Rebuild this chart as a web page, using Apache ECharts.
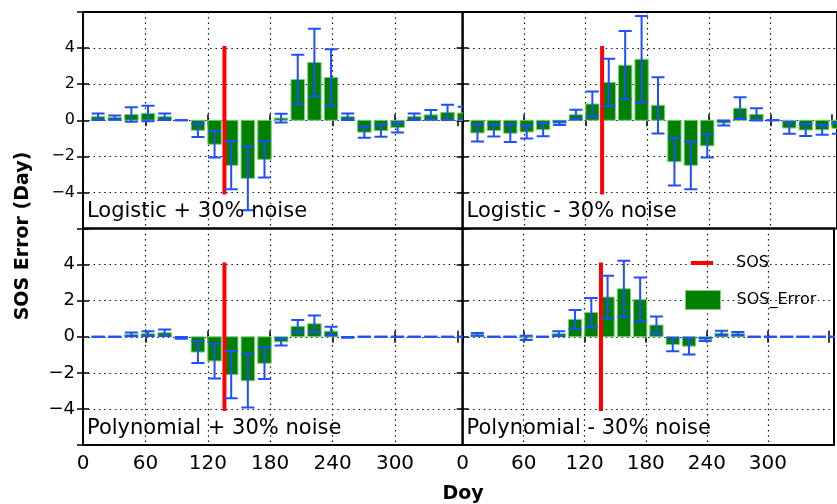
<!DOCTYPE html>
<html>
<head>
<meta charset="utf-8">
<script src="https://cdn.jsdelivr.net/npm/echarts@6/dist/echarts.min.js"></script>
<style>
html, body { margin: 0; padding: 0; background: #fff; }
#chart { width: 837px; height: 504px; }
</style>
</head>
<body>
<div id="chart"></div>
<script>
// SOS error per 16-day composite, four simulation settings (2x2 panels).

const days = [14.5, 30.5, 46.5, 62.5, 78.5, 94.5, 110.5, 126.5, 142.5, 158.5, 174.5, 190.5,
  206.5, 222.5, 238.5, 254.5, 270.5, 286.5, 302.5, 318.5, 334.5, 350.5, 366.5];

const sosDay = 136;
const sosSpan = [-4, 4];

const panelTitles = ['Logistic + 30% noise', 'Logistic - 30% noise', 'Polynomial + 30% noise', 'Polynomial - 30% noise'];

const logPlusVal = [0.2, 0.15, 0.32, 0.38, 0.2, 0, -0.56, -1.33, -2.5, -3.22, -2.17, 0.12,
  2.26, 3.2, 2.37, 0.2, -0.66, -0.58, -0.4, 0.2, 0.3, 0.44, 0.4];
const logPlusErr = [0.18, 0.12, 0.4, 0.43, 0.18, 0, 0.37, 0.73, 1.33, 1.77, 1.0, 0.24,
  1.37, 1.87, 1.56, 0.18, 0.31, 0.34, 0.28, 0.18, 0.27, 0.42, 0.35];

const logMinusVal = [-0.7, -0.57, -0.72, -0.65, -0.52, -0.17, 0.31, 0.9, 2.1, 3.05, 3.38, 0.83,
  -2.3, -2.5, -1.42, -0.15, 0.67, 0.33, 0, -0.43, -0.54, -0.53, -0.45];
const logMinusErr = [0.48, 0.33, 0.49, 0.36, 0.36, 0.1, 0.27, 0.69, 1.31, 1.89, 2.4, 1.56,
  1.31, 1.32, 0.65, 0.14, 0.6, 0.34, 0, 0.32, 0.33, 0.27, 0.3];

const polyPlusVal = [0, 0, 0.13, 0.17, 0.22, -0.06, -0.85, -1.34, -2.1, -2.44, -1.47, -0.28,
  0.58, 0.72, 0.31, -0.03, 0, 0, 0, 0, 0, 0, 0];
const polyPlusErr = [0, 0, 0.1, 0.13, 0.18, 0.05, 0.6, 0.97, 1.31, 1.48, 0.87, 0.2,
  0.35, 0.46, 0.24, 0.02, 0, 0, 0, 0, 0, 0, 0];

const polyMinusVal = [0.13, 0, 0, -0.06, 0, 0.17, 0.96, 1.34, 2.2, 2.66, 2.06, 0.65,
  -0.43, -0.52, -0.15, 0.2, 0.17, 0, 0, 0, 0, 0, 0];
const polyMinusErr = [0.08, 0, 0, 0.12, 0, 0.13, 0.52, 0.81, 1.18, 1.55, 1.22, 0.47,
  0.37, 0.46, 0.08, 0.13, 0.09, 0, 0, 0, 0, 0, 0];

const panelVals = [logPlusVal, logMinusVal, polyPlusVal, polyMinusVal];
const panelErrs = [logPlusErr, logMinusErr, polyPlusErr, polyMinusErr];

const FONT = 'DejaVu Sans';
const BAR_DAYS = 13;     // bar width in days
const CAP = 6.5;         // half width of the error caps, px
const GREEN = '#008000';
const BLUE = '#1f4fff';

function renderBar(params, api) {
  const x = api.value(0), v = api.value(1);
  const a = api.coord([x - BAR_DAYS / 2, 0]);
  const b = api.coord([x + BAR_DAYS / 2, v]);
  return {
    type: 'rect',
    shape: { x: a[0], y: Math.min(a[1], b[1]), width: b[0] - a[0], height: Math.abs(b[1] - a[1]) },
    style: { fill: GREEN, stroke: '#7fcf7f', lineWidth: 1 },
  };
}

function renderErr(params, api) {
  const x = api.value(0), v = api.value(1), e = api.value(2);
  const t = api.coord([x, v + e]);
  const b = api.coord([x, v - e]);
  const st = { stroke: BLUE, lineWidth: 2 };
  return {
    type: 'group',
    children: [
      { type: 'line', shape: { x1: t[0], y1: t[1], x2: b[0], y2: b[1] }, style: st },
      { type: 'line', shape: { x1: t[0] - CAP, y1: t[1], x2: t[0] + CAP, y2: t[1] }, style: st },
      { type: 'line', shape: { x1: b[0] - CAP, y1: b[1], x2: b[0] + CAP, y2: b[1] }, style: st },
    ],
  };
}

function renderSos(params, api) {
  const t = api.coord([api.value(0), api.value(2)]);
  const b = api.coord([api.value(0), api.value(1)]);
  return {
    type: 'line',
    shape: { x1: t[0], y1: t[1], x2: b[0], y2: b[1] },
    style: { stroke: '#ff0000', lineWidth: 4, lineCap: 'square' },
  };
}

const yFmt = (v) => (Math.abs(v) >= 6 ? '' : v < 0 ? '\u2212' + (-v) : String(v));
const xFmt = (v) => (v <= 300 ? String(v) : '');
const dotted = { color: '#111', width: 1.2, type: [1.5, 3.8] };
const tick = { inside: true, length: 6, lineStyle: { color: '#000', width: 1.5 } };

const grids = [], xAxes = [], yAxes = [], series = [], graphics = [];
const PW = 379.6, PH = 216.5;

panelTitles.forEach((title, i) => {
  const col = i % 2, row = Math.floor(i / 2);
  const left = 83 + col * PW, top = 12 + row * PH;
  grids.push({ left, top, width: PW, height: PH, show: true, borderColor: '#000', borderWidth: 2, backgroundColor: 'transparent' });

  const xBase = { type: 'value', gridIndex: i, min: 0, max: 365, interval: 60, axisLine: { show: false }, axisTick: tick };
  xAxes.push(Object.assign({}, xBase, {
    position: 'bottom',
    axisLabel: { show: row === 1, formatter: xFmt, fontSize: 20, fontFamily: FONT, color: '#000', margin: 9 },
    splitLine: { show: true, lineStyle: Object.assign({}, dotted, { color: ['#111', '#111', '#111', '#111', '#111', '#111', 'transparent', 'transparent'] }) },
  }));
  xAxes.push(Object.assign({}, xBase, { position: 'top', axisLabel: { show: false }, splitLine: { show: false } }));

  const yBase = { type: 'value', gridIndex: i, min: -6, max: 6, interval: 2, axisLine: { show: false }, axisTick: tick };
  yAxes.push(Object.assign({}, yBase, {
    position: 'left',
    axisLabel: { show: col === 0, formatter: yFmt, fontSize: row === 0 ? 16 : 18, fontFamily: FONT, color: '#000', margin: 8 },
    splitLine: { show: true, lineStyle: dotted },
  }));
  yAxes.push(Object.assign({}, yBase, { position: 'right', axisLabel: { show: false }, splitLine: { show: false } }));

  const data = days.map((d, k) => [d, panelVals[i][k], panelErrs[i][k]]);
  const ax = { xAxisIndex: 2 * i, yAxisIndex: 2 * i };
  series.push(Object.assign({ type: 'custom', name: 'SOS_Error', renderItem: renderBar, data, clip: true, z: 2, encode: { x: 0, y: 1 }, itemStyle: { color: GREEN } }, ax));
  series.push(Object.assign({ type: 'custom', name: 'SOS', renderItem: renderSos, data: [[sosDay, sosSpan[0], sosSpan[1]]], clip: true, z: 3, encode: { x: 0, y: [1, 2] }, itemStyle: { color: '#ff0000' } }, ax));
  series.push(Object.assign({ type: 'custom', name: 'err', renderItem: renderErr, data, clip: true, z: 4, encode: { x: 0, y: 1 } }, ax));

  graphics.push({
    type: 'text', x: left + 4, y: top + PH - 16.5, z: 10,
    style: { text: title, fontSize: 21, fontFamily: FONT, fill: '#000', verticalAlign: 'middle' },
  });
});

graphics.push({
  type: 'text', x: 23, y: 236, rotation: Math.PI / 2,
  style: { text: 'SOS Error (Day)', fontSize: 19, fontWeight: 'bold', fontFamily: FONT, fill: '#000', align: 'center', verticalAlign: 'middle' },
});
graphics.push({
  type: 'text', x: 463, y: 494,
  style: { text: 'Doy', fontSize: 19, fontWeight: 'bold', fontFamily: FONT, fill: '#000', align: 'center', verticalAlign: 'middle' },
});

const legendText = { fontSize: 16, fontFamily: FONT, color: '#000' };

const chart = echarts.init(document.getElementById('chart'));
chart.setOption({
  animation: false,
  grid: grids,
  xAxis: xAxes,
  yAxis: yAxes,
  legend: [
    {
      left: 686, top: 250, itemWidth: 22, itemHeight: 4, icon: 'rect', selectedMode: false,
      data: [{ name: 'SOS', itemStyle: { color: '#ff0000' } }],
      textStyle: Object.assign({ padding: [0, 0, 0, 18] }, legendText),
    },
    {
      left: 680, top: 285, itemWidth: 35, itemHeight: 19, icon: 'rect', selectedMode: false,
      data: [{ name: 'SOS_Error', itemStyle: { color: GREEN, borderColor: '#7fcf7f', borderWidth: 1 } }],
      textStyle: Object.assign({ padding: [0, 0, 0, 11] }, legendText),
    },
  ],
  graphic: graphics,
  series,
});
</script>
</body>
</html>
